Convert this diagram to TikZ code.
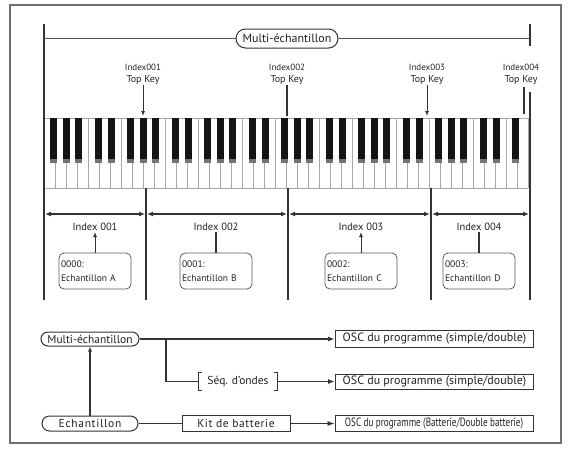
\documentclass[tikz,border=0pt]{standalone}
\usepackage{fontspec}
\setmainfont{PT Sans}
\usetikzlibrary{arrows.meta,shapes.misc,calc}
\definecolor{ln}{HTML}{333333}
\definecolor{fr}{HTML}{707070}
\definecolor{txt}{HTML}{222222}
\definecolor{wkl}{HTML}{A8A8A8}
\begin{document}
\begin{tikzpicture}[x=1pt,y=-1pt,
  every node/.style={text=txt},
  pill/.style={draw=ln, line width=1pt, rounded rectangle, inner sep=1pt, font=\fontsize{12}{14}\selectfont},
  sbox/.style={draw=ln!80, line width=0.8pt, rounded corners=5pt, minimum width=72, minimum height=36, text width=68, align=left, inner xsep=2pt, font=\fontsize{9.5}{13.5}\selectfont},
  obox/.style={draw=ln, line width=1pt, minimum width=198, inner sep=1pt, font=\fontsize{12}{14}\selectfont},
  kbox/.style={draw=ln, line width=0.8pt, minimum width=108, minimum height=16, inner sep=1pt, font=\fontsize{11.5}{13}\selectfont},
  toplbl/.style={align=center, inner sep=1pt, font=\fontsize{10}{12}\selectfont},
  idx/.style={inner sep=1pt, font=\fontsize{10.5}{12}\selectfont},
  vl/.style={draw=ln, line width=1.4pt},
  hl/.style={draw=ln!85, line width=1.2pt},
  dbl/.style={draw=ln, line width=1.4pt, {Latex[length=6pt,width=5pt]}-{Latex[length=6pt,width=5pt]}},
  arr/.style={draw=ln, line width=0.9pt, -{Latex[length=5pt,width=4pt]}},
  thk/.style={draw=ln, line width=1.4pt},
  thn/.style={draw=ln, line width=0.8pt},
  tip/.style={-{Latex[length=7pt,width=5pt]}}
]
\useasboundingbox (0,0) rectangle (568,448);
\fill[white] (0,0) rectangle (568,448);
% outer frame
\draw[fr, line width=1.4pt] (10,5) rectangle (561,443);

% ---------- keyboard ----------
\foreach \i in {0,...,44} \draw[wkl, line width=0.7pt] (44+11*\i,118) -- (44+11*\i,188);
\draw[wkl, line width=0.7pt] (44,118) -- (528,118);
\draw[wkl, line width=0.9pt] (44,188) -- (528,188);
\foreach \o in {0,...,5}{
  \foreach \p in {9.5,22,34,54,67}{
    \fill[black!92] (44+77*\o+\p-3.5,118) rectangle (44+77*\o+\p+3.5,159);
    \fill[black!55] (44+77*\o+\p-3.5,159) rectangle (44+77*\o+\p+3.5,163);
  }
}
\fill[black!92] (44+462+9.5-3.5,118) rectangle (44+462+9.5+3.5,159);
\fill[black!55] (44+462+9.5-3.5,159) rectangle (44+462+9.5+3.5,163);

% ---------- top multi-sample bracket ----------
\node[pill, minimum width=104, minimum height=19] (mtop) at (287,38.5) {Multi-échantillon};
\coordinate (tl) at (44,24);
\coordinate (bl) at (44,300);
\coordinate (tr) at (530,24);
\coordinate (tre) at (530,46);
\coordinate (mr) at (530,92);
\coordinate (br) at (530,300);
\draw[vl] (tl) -- (bl);
\draw[vl] (tr) -- (tre);
\draw[vl] (mr) -- (br);
\draw[hl] (mtop.west) -- (44,38.5);
\draw[hl] (mtop.east) -- (530,38.5);

% ---------- top keys ----------
\node[toplbl] (tk1) at (143,74) {{\fontsize{9}{11}\selectfont Index001}\\Top Key};
\node[toplbl] (tk2) at (287,74) {{\fontsize{9}{11}\selectfont Index002}\\Top Key};
\node[toplbl] (tk3) at (427,74) {{\fontsize{9}{11}\selectfont Index003}\\Top Key};
\node[toplbl] (tk4) at (521,74) {{\fontsize{9}{11}\selectfont Index004}\\Top Key};
\coordinate (k1) at (143,116);
\coordinate (k2) at (287,116);
\coordinate (k3) at (427,116);
\coordinate (k4) at (524,114);
\coordinate (k4t) at (524,87);
\draw[arr] (tk1.south) -- (k1);
\draw[line width=2pt, draw=ln] (tk2.south) -- (k2);
\draw[arr] (tk3.south) -- (k3);
\draw[line width=1.8pt, draw=ln] (k4t) -- (k4);

% ---------- separators and ranges ----------
\coordinate (s1t) at (146,188); \coordinate (s1b) at (146,300);
\coordinate (s2t) at (288,188); \coordinate (s2b) at (288,300);
\coordinate (s3t) at (431,188); \coordinate (s3b) at (431,300);
\draw[vl, line width=1.2pt] (s1t) -- (s1b);
\draw[vl, line width=1.2pt] (s2t) -- (s2b);
\draw[vl, line width=1.2pt] (s3t) -- (s3b);
\coordinate (d0) at (44,214);
\coordinate (d1) at (146,214);
\coordinate (d2) at (288,214);
\coordinate (d3) at (431,214);
\coordinate (d4) at (530,214);
\draw[dbl] ($(d0)+(1,0)$) -- ($(d1)+(-1,0)$);
\draw[dbl] ($(d1)+(1,0)$) -- ($(d2)+(-1,0)$);
\draw[dbl] ($(d2)+(1,0)$) -- ($(d3)+(-1,0)$);
\draw[dbl] ($(d3)+(1,0)$) -- ($(d4)+(-1,0)$);

\node[idx] (i1) at (95,227) {Index 001};
\node[idx] (i2) at (216,227) {Index 002};
\node[idx] (i3) at (361,227) {Index 003};
\node[idx] (i4) at (479,227) {Index 004};

\node[sbox] (sA) at (95,271) {0000:\\Echantillon A};
\node[sbox] (sB) at (216,271) {0001:\\Echantillon B};
\node[sbox] (sC) at (361,271) {0002:\\Echantillon C};
\node[sbox] (sD) at (479,271) {0003:\\Echantillon D};
\draw[arr] (sA.north) -- (i1.south);
\draw[line width=1.8pt, draw=ln] (sB.north) -- (i2.south);
\draw[arr] (sC.north) -- (i3.south);
\draw[line width=1.8pt, draw=ln] (sD.north) -- (i4.south);

% ---------- bottom flow ----------
\node[pill, minimum width=100, minimum height=14, font=\fontsize{11.5}{13}\selectfont] (mb) at (90,339) {Multi-échantillon};
\node[pill, minimum width=98, minimum height=15, font=\fontsize{11.5}{13}\addfontfeatures{LetterSpace=6}] (eb) at (90,423.5) {Echantillon};
\draw[arr, line width=1.2pt] (eb.north) -- (mb.south);

\node[obox, minimum height=17] (o1) at (434.5,339) {OSC du programme (simple/double)};
\node[obox, minimum height=15] (o2) at (434.5,381.5) {OSC du programme (simple/double)};
\node[obox, minimum height=16] (o3) at (434,423.5) {\scalebox{0.76}[1]{OSC du programme (Batterie/Double batterie)}};

\node[inner sep=1pt, minimum width=79, minimum height=17, font=\fontsize{11.5}{13}\selectfont] (seq) at (238,381.5) {Séq. d'ondes};
\draw[thn, line width=1pt] ($(seq.north west)+(4,0)$) -- (seq.north west) -- (seq.south west) -- ++(4,0);
\draw[thn, line width=1pt] ($(seq.north east)+(-4,0)$) -- (seq.north east) -- (seq.south east) -- ++(-4,0);

\node[kbox, font=\fontsize{11.5}{13}\addfontfeatures{LetterSpace=5}] (kit) at (236,423.5) {Kit de batterie};

\coordinate (brn) at (166,339);
\draw[thk, tip] (mb.east) -- (o1.west);
\draw[thk] (brn) |- (seq.west);
\draw[thk, tip] (seq.east) -- (o2.west);
\draw[thn] (eb.east) -- (kit.west);
\draw[thn, tip] (kit.east) -- (o3.west);
\end{tikzpicture}
\end{document}
